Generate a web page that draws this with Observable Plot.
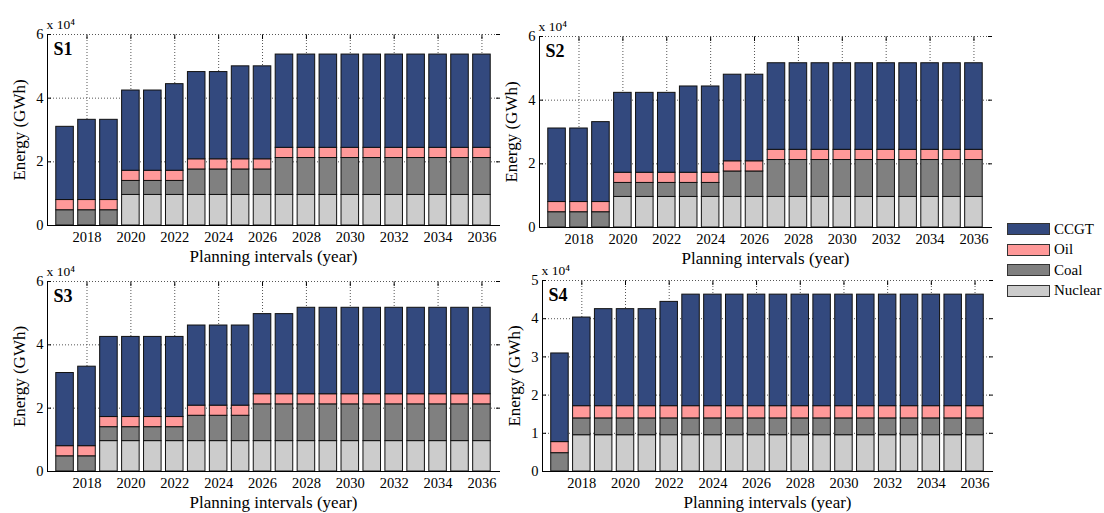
<!DOCTYPE html>
<html><head><meta charset="utf-8">
<script src="https://cdn.jsdelivr.net/npm/d3@7"></script>
<script src="https://cdn.jsdelivr.net/npm/@observablehq/plot@0.6"></script>
<style>
body{margin:0;background:#fff;}
#wrap{position:relative;width:1104px;height:513px;overflow:hidden;font-family:"Liberation Serif","Times New Roman",serif;}
.panel{position:absolute;}
.legend{position:absolute;left:1007px;top:219px;}
.item{display:flex;align-items:center;height:20.5px;font-size:15px;color:#000;}
.sw{width:41px;height:10px;border:1px solid #333;margin-right:4px;}
</style></head><body><div id="wrap"></div>
<script>
const years = [2017,2018,2019,2020,2021,2022,2023,2024,2025,2026,2027,2028,2029,2030,2031,2032,2033,2034,2035,2036];
const sources = ["CCGT","Oil","Coal","Nuclear"];
const colors = ["#33497e","#ff9999","#808080","#cccccc"];
const xTicks = [2018,2020,2022,2024,2026,2028,2030,2032,2034,2036];
const yTicks6 = [0,20000,40000,60000];
const yTicks5 = [0,10000,20000,30000,40000,50000];
const xDomain = [2016.2, 2036.8];

// Values in GWh
const s1Nuclear = [0,0,0,9600,9600,9600,9600,9600,9600,9600,9600,9600,9600,9600,9600,9600,9600,9600,9600,9600];
const s1Coal    = [4800,4800,4800,4400,4400,4400,8000,8000,8000,8000,11600,11600,11600,11600,11600,11600,11600,11600,11600,11600];
const s1Oil     = [3200,3200,3200,3200,3200,3200,3200,3200,3200,3200,3200,3200,3200,3200,3200,3200,3200,3200,3200,3200];
const s1CCGT    = [23000,25200,25200,25200,25200,27200,27400,27400,29200,29200,29300,29300,29300,29300,29300,29300,29300,29300,29300,29300];

const s2Nuclear = [0,0,0,9600,9600,9600,9600,9600,9600,9600,9600,9600,9600,9600,9600,9600,9600,9600,9600,9600];
const s2Coal    = [4800,4800,4800,4400,4400,4400,4400,4400,8000,8000,11600,11600,11600,11600,11600,11600,11600,11600,11600,11600];
const s2Oil     = [3200,3200,3200,3200,3200,3200,3200,3200,3200,3200,3200,3200,3200,3200,3200,3200,3200,3200,3200,3200];
const s2CCGT    = [23100,23100,25100,25100,25100,25100,27100,27100,27200,27200,27200,27200,27200,27200,27200,27200,27200,27200,27200,27200];

const s3Nuclear = [0,0,9600,9600,9600,9600,9600,9600,9600,9600,9600,9600,9600,9600,9600,9600,9600,9600,9600,9600];
const s3Coal    = [4800,4800,4400,4400,4400,4400,8000,8000,8000,11600,11600,11600,11600,11600,11600,11600,11600,11600,11600,11600];
const s3Oil     = [3200,3200,3200,3200,3200,3200,3200,3200,3200,3200,3200,3200,3200,3200,3200,3200,3200,3200,3200,3200];
const s3CCGT    = [23100,25100,25300,25300,25300,25300,25300,25300,25300,25300,25300,27300,27300,27300,27300,27300,27300,27300,27300,27300];

const s4Nuclear = [0,9500,9500,9500,9500,9500,9500,9500,9500,9500,9500,9500,9500,9500,9500,9500,9500,9500,9500,9500];
const s4Coal    = [4800,4400,4400,4400,4400,4400,4400,4400,4400,4400,4400,4400,4400,4400,4400,4400,4400,4400,4400,4400];
const s4Oil     = [2900,3200,3200,3200,3200,3200,3200,3200,3200,3200,3200,3200,3200,3200,3200,3200,3200,3200,3200,3200];
const s4CCGT    = [23200,23200,25400,25400,25400,27300,29200,29200,29200,29200,29200,29200,29200,29200,29200,29200,29200,29200,29200,29200];

const wrap = document.getElementById("wrap");
const grid = {stroke:"#555", strokeOpacity:1, strokeDasharray:"1,2", strokeWidth:1};

function panel(cfg) {
  const rows = [];
  years.forEach((yr, i) => {
    rows.push({year: yr, source: "Nuclear", value: cfg.nuclear[i]});
    rows.push({year: yr, source: "Coal", value: cfg.coal[i]});
    rows.push({year: yr, source: "Oil", value: cfg.oil[i]});
    rows.push({year: yr, source: "CCGT", value: cfg.ccgt[i]});
  });
  const yTicks = cfg.yTicks;
  const chart = Plot.plot({
    width: cfg.width, height: cfg.height,
    marginLeft: cfg.ml, marginRight: cfg.mr, marginTop: cfg.mt, marginBottom: cfg.mb,
    style: {fontFamily: "'Liberation Serif', 'Times New Roman', serif", fontSize: "14.5px", color: "black", background: "transparent", overflow: "visible"},
    x: {domain: xDomain, axis: null},
    y: {domain: [0, yTicks[yTicks.length - 1]], axis: null},
    color: {domain: sources, range: colors},
    marks: [
      Plot.gridX(xTicks, grid),
      Plot.gridY(yTicks, grid),
      Plot.axisY(yTicks, {anchor: "left", tickSize: -4, fill: "none"}),
      Plot.axisY(yTicks, {anchor: "right", tickSize: -4, fill: "none"}),
      Plot.axisX(xTicks, {anchor: "top", tickSize: -4, fill: "none"}),
      Plot.axisX(xTicks, {anchor: "bottom", tickSize: -4, fill: "none"}),
      Plot.rectY(rows, {x1: d => d.year - 0.4, x2: d => d.year + 0.4, y: "value", fill: "source", stroke: "#111", strokeWidth: 1}),
      Plot.ruleX([xDomain[0]], {stroke: "black"}),
      Plot.ruleY([0], {stroke: "black"}),
      Plot.axisX(xTicks, {anchor: "bottom", tickSize: 0, tickPadding: 6, label: null, tickFormat: d => String(d)}),
      Plot.axisY(yTicks, {anchor: "left", tickSize: 0, tickPadding: 4, label: null, tickFormat: d => String(d / 1e4)}),
      Plot.text([cfg.label], {frameAnchor: "top-left", dx: 6, dy: 15, fontSize: 18, fontWeight: "bold", textAnchor: "start", lineAnchor: "middle"}),
      Plot.text(["x 10\u2074"], {frameAnchor: "top-left", dx: -1, dy: -10, fontSize: 13.5, textAnchor: "start", lineAnchor: "middle"}),
      Plot.text(["Planning intervals (year)"], {frameAnchor: "bottom", dy: 31, fontSize: 17, textAnchor: "middle", lineAnchor: "middle"}),
      Plot.text(["Energy (GWh)"], {frameAnchor: "left", dx: -27.5, rotate: -90, fontSize: 17, textAnchor: "middle", lineAnchor: "middle"})
    ]
  });
  chart.classList.add("panel");
  chart.style.left = cfg.left + "px";
  chart.style.top = cfg.top + "px";
  wrap.appendChild(chart);
}

panel({label: "S1", left: 0, top: 0, width: 505, height: 270, ml: 47, mr: 6, mt: 34, mb: 45,
  nuclear: s1Nuclear, coal: s1Coal, oil: s1Oil, ccgt: s1CCGT, yTicks: yTicks6});
panel({label: "S2", left: 500, top: 0, width: 500, height: 270, ml: 39, mr: 9, mt: 36, mb: 43,
  nuclear: s2Nuclear, coal: s2Coal, oil: s2Oil, ccgt: s2CCGT, yTicks: yTicks6});
panel({label: "S3", left: 0, top: 250, width: 505, height: 263, ml: 47, mr: 6, mt: 31, mb: 42,
  nuclear: s3Nuclear, coal: s3Coal, oil: s3Oil, ccgt: s3CCGT, yTicks: yTicks6});
panel({label: "S4", left: 500, top: 250, width: 500, height: 263, ml: 42, mr: 8, mt: 30, mb: 42,
  nuclear: s4Nuclear, coal: s4Coal, oil: s4Oil, ccgt: s4CCGT, yTicks: yTicks5});

// Legend
const legend = document.createElement("div");
legend.className = "legend";
sources.forEach((s, i) => {
  const item = document.createElement("div");
  item.className = "item";
  const sw = document.createElement("div");
  sw.className = "sw";
  sw.style.background = colors[i];
  const t = document.createElement("span");
  t.textContent = s;
  item.appendChild(sw);
  item.appendChild(t);
  legend.appendChild(item);
});
wrap.appendChild(legend);
</script>
</body></html>
